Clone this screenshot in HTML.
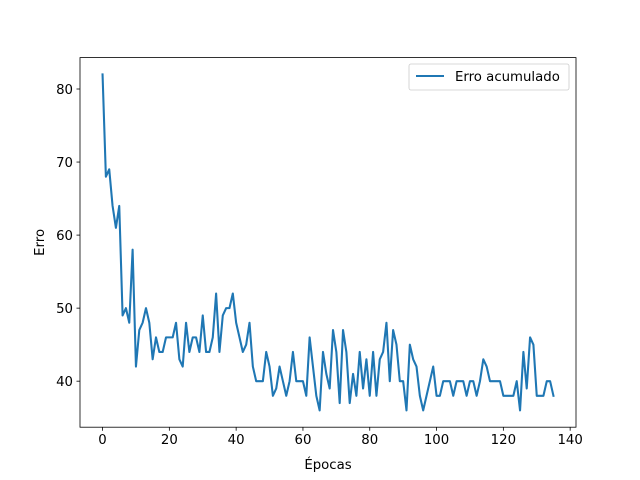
<!DOCTYPE html>
<html><head><meta charset="utf-8"><style>
body{margin:0;background:#fff;}
svg{display:block;font-family:"DejaVu Sans","Liberation Sans",sans-serif;}
</style></head><body>
<svg id="chart" width="640" height="480" viewBox="0 0 640 480">
<rect width="640" height="480" fill="#fff"/>
<g id="ticks"></g>
<path id="line" fill="none" stroke="#1f77b4" stroke-width="2.08" stroke-linejoin="round" stroke-linecap="square"/>
<rect x="80" y="57.6" width="496" height="369.6" fill="none" stroke="#000" stroke-width="0.8"/>
<text x="328" y="469" text-anchor="middle" font-size="13.3">Épocas</text>
<text transform="translate(44,242.4) rotate(-90)" text-anchor="middle" font-size="13.3">Erro</text>
<g>
<rect x="409" y="64" width="160" height="26" rx="2" fill="#fff" stroke="#ccc" stroke-width="0.8"/>
<line x1="416" y1="76" x2="444" y2="76" stroke="#1f77b4" stroke-width="2.08"/>
<text x="455" y="81" font-size="13.3">Erro acumulado</text>
</g>
</svg>
<script>
const values=[82,68,69,64,61,64,49,50,48,58,42,47,48,50,48,43,46,44,44,46,46,46,48,43,42,48,44,46,46,44,49,44,44,46,52,44,49,50,50,52,48,46,44,45,48,42,40,40,40,44,42,38,39,42,40,38,40,44,40,40,40,38,46,42,38,36,44,41,39,47,44,37,47,44,37,41,38,44,39,43,38,44,38,43,44,48,40,47,45,40,40,36,45,43,42,38,36,38,40,42,38,38,40,40,40,38,40,40,40,38,40,40,38,40,43,42,40,40,40,40,38,38,38,38,40,36,44,39,46,45,38,38,38,40,40,38];
const xTicks=[0,20,40,60,80,100,120,140];
const yTicks=[40,50,60,70,80];
const L=80,R=576,T=57.6,B=427.2;
const n=values.length-1;
const xmin=-0.05*n,xmax=n*1.05;
const vmin=Math.min(...values),vmax=Math.max(...values),vr=vmax-vmin;
const ymin=vmin-0.05*vr,ymax=vmax+0.05*vr;
const xs=v=>L+(v-xmin)/(xmax-xmin)*(R-L);
const ys=v=>B-(v-ymin)/(ymax-ymin)*(B-T);
document.getElementById('line').setAttribute('d',values.map((v,i)=>(i?'L':'M')+xs(i).toFixed(2)+' '+ys(v).toFixed(2)).join(' '));
const g=document.getElementById('ticks');
const NS='http://www.w3.org/2000/svg';
xTicks.forEach(t=>{
  const x=xs(t);
  const l=document.createElementNS(NS,'line');
  l.setAttribute('x1',x);l.setAttribute('x2',x);l.setAttribute('y1',B);l.setAttribute('y2',B+3.5);
  l.setAttribute('stroke','#000');l.setAttribute('stroke-width','0.8');
  
  
  g.appendChild(l);
  const tx=document.createElementNS(NS,'text');
  tx.setAttribute('x',x);tx.setAttribute('y',B+17);tx.setAttribute('text-anchor','middle');tx.setAttribute('font-size','13.3');
  tx.textContent=t;
  
  
  g.appendChild(tx);
});
yTicks.forEach(t=>{
  const y=ys(t);
  const l=document.createElementNS(NS,'line');
  l.setAttribute('x1',L-3.5);l.setAttribute('x2',L);l.setAttribute('y1',y);l.setAttribute('y2',y);
  l.setAttribute('stroke','#000');l.setAttribute('stroke-width','0.8');
  
  
  g.appendChild(l);
  const tx=document.createElementNS(NS,'text');
  tx.setAttribute('x',L-7);tx.setAttribute('y',y+5);tx.setAttribute('text-anchor','end');tx.setAttribute('font-size','13.3');
  tx.textContent=t;
  
  
  g.appendChild(tx);
});
</script>
</body></html>
